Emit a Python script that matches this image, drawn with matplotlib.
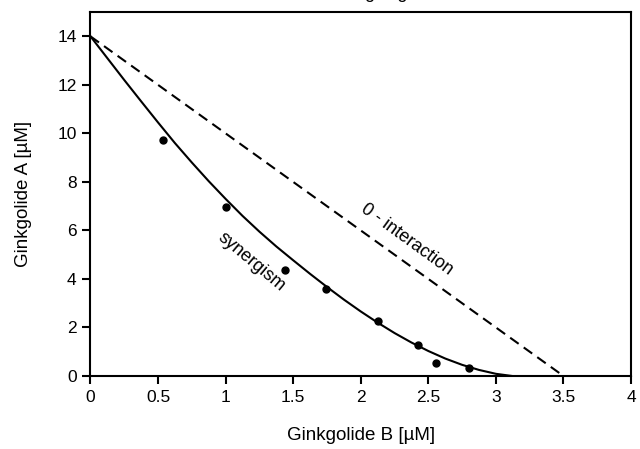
# Isobolograma de ginkgólidos A y B
import numpy as np
import matplotlib
matplotlib.use("Agg")
import matplotlib.pyplot as plt

plt.rcParams['font.family'] = ['Liberation Sans', 'DejaVu Sans']

# puntos experimentales
gb_puntos = [0.536, 1.0, 1.44, 1.745, 2.13, 2.42, 2.555, 2.8]
ga_puntos = [9.72, 6.95, 4.35, 3.6, 2.25, 1.28, 0.55, 0.32]

# curva de sinergismo
gb_curva = [0, 0.125, 0.25, 0.375, 0.5, 0.625, 0.75, 0.875, 1.0, 1.125,
            1.25, 1.375, 1.5, 1.625, 1.75, 1.875, 2.0, 2.125, 2.25, 2.375,
            2.5, 2.625, 2.75, 2.875, 3.0, 3.12]
ga_curva = [14.0, 13.1, 12.2, 11.32, 10.45, 9.6, 8.8, 8.03, 7.3, 6.6,
            5.95, 5.34, 4.77, 4.21, 3.67, 3.15, 2.66, 2.2, 1.77, 1.38,
            1.03, 0.72, 0.46, 0.25, 0.09, 0.0]

# línea de cero interacción
gb_cero = [0, 3.5]
ga_cero = [14, 0]

xticks = [0, 0.5, 1, 1.5, 2, 2.5, 3, 3.5, 4]
xlabels = ['0', '0.5', '1', '1.5', '2', '2.5', '3', '3.5', '4']
yticks = [0, 2, 4, 6, 8, 10, 12, 14]

fig = plt.figure(figsize=(6.4, 4.49), dpi=100)
ax = fig.add_axes([0.1414, 0.1626, 0.8446, 0.8104])

ax.plot(gb_cero, ga_cero, color='black', lw=1.5, ls=(0, (5, 3)))
ax.plot(gb_curva, ga_curva, color='black', lw=1.5)
ax.plot(gb_puntos, ga_puntos, 'o', color='black', ms=5)

ax.set_xlim(0, 4)
ax.set_ylim(0, 15)
ax.set_xticks(xticks)
ax.set_xticklabels(xlabels)
ax.set_yticks(yticks)
ax.tick_params(direction='out', length=6, width=1.5, labelsize=12.5, pad=4)
for s in ax.spines.values():
    s.set_linewidth(1.5)

ax.set_xlabel('Ginkgolide B [µM]', fontsize=13.5)
ax.set_ylabel('Ginkgolide A [µM]', fontsize=13.5)
ax.xaxis.set_label_coords(0.5, -0.14)
ax.yaxis.set_label_coords(-0.108, 0.5)

ax.text(1.19, 4.69, 'synergism', rotation=-40, fontsize=13,
        ha='center', va='center')
ax.text(2.34, 5.63, '0 - interaction', rotation=-36, fontsize=13,
        ha='center', va='center')

# título recortado en el borde superior
fig.text(0.64, 1.004, 'ginkgolides', fontsize=13, ha='center', va='baseline')

fig.savefig('out.png', dpi=100)
